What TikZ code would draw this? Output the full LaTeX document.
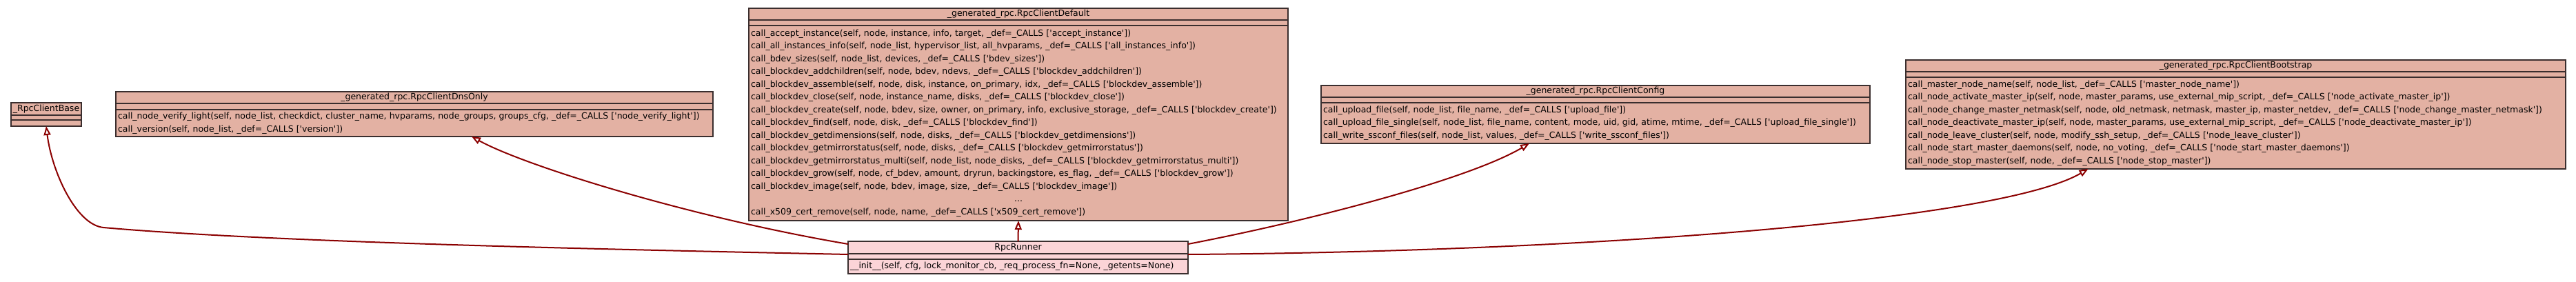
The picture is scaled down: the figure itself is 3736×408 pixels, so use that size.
\documentclass[tikz,border=0pt]{standalone}
\usepackage{fontspec}
\setmainfont{DejaVu Sans}
\usepackage{tikz}
\usetikzlibrary{positioning}
\usetikzlibrary{arrows.meta}
\usepackage{xcolor}
\definecolor{ColGen}{RGB}{227,177,163}
\definecolor{ColRun}{RGB}{251,212,215}
\definecolor{ColLine}{RGB}{58,46,46}
\definecolor{ColArrow}{RGB}{139,0,0}
\newcommand{\Calls}[1]{\_def=\_CALLS [\textquotesingle#1\textquotesingle])}
\tikzstyle{ClassPart}=[draw=ColLine,fill=ColGen,line width=1.2pt,inner sep=1pt,outer sep=0pt,
font=\fontsize{12.5}{18.5}\selectfont]
\tikzstyle{ClassTitle}=[ClassPart,minimum height=17pt]
\tikzstyle{ClassAttr}=[ClassPart,minimum height=8pt]
\tikzstyle{ClassOps}=[ClassPart,align=left,inner xsep=3pt]
\tikzstyle{EdgeInherit}=[ColArrow,line width=2pt,-{Triangle[open,fill=white,length=13pt,width=10pt]}]

\begin{document}
\begin{tikzpicture}[x=1pt,y=-1pt]
        \useasboundingbox(0,0)rectangle(3736,408);
        % _RpcClientBase
        \node[ClassTitle,anchor=north west,minimum width=102pt,minimum height=18pt](BaseTitle)at(16,149){\_RpcClientBase};
        \node[ClassAttr,below=0pt of BaseTitle,minimum width=102pt,minimum height=7pt](BaseAttr){};
        \node[ClassOps,below=0pt of BaseAttr,minimum width=102pt,minimum height=9pt](BaseOps){};
        % RpcClientDnsOnly
        \node[ClassTitle,anchor=north west,minimum width=866pt](DnsTitle)at(168,133){\_generated\_rpc.RpcClientDnsOnly};
        \node[ClassAttr,below=0pt of DnsTitle,minimum width=866pt,minimum height=9pt](DnsAttr){};
        \node[ClassOps,below=0pt of DnsAttr,minimum width=866pt,text width=860pt,minimum height=39pt](DnsOps){%
call\_node\_verify\_light(self, node\_list, checkdict, cluster\_name, hvparams, node\_groups, groups\_cfg, \Calls{node\_verify\_light}\\
call\_version(self, node\_list, \Calls{version}};
        % RpcClientDefault
        \node[ClassTitle,anchor=north west,minimum width=782pt](DefTitle)at(1086,12){\_generated\_rpc.RpcClientDefault};
        \node[ClassAttr,below=0pt of DefTitle,minimum width=782pt](DefAttr){};
        \node[ClassOps,below=0pt of DefAttr,minimum width=782pt,text width=776pt,minimum height=283pt](DefOps){%
call\_accept\_instance(self, node, instance, info, target, \Calls{accept\_instance}\\
call\_all\_instances\_info(self, node\_list, hypervisor\_list, all\_hvparams, \Calls{all\_instances\_info}\\
call\_bdev\_sizes(self, node\_list, devices, \Calls{bdev\_sizes}\\
call\_blockdev\_addchildren(self, node, bdev, ndevs, \Calls{blockdev\_addchildren}\\
call\_blockdev\_assemble(self, node, disk, instance, on\_primary, idx, \Calls{blockdev\_assemble}\\
call\_blockdev\_close(self, node, instance\_name, disks, \Calls{blockdev\_close}\\
call\_blockdev\_create(self, node, bdev, size, owner, on\_primary, info, exclusive\_storage, \Calls{blockdev\_create}\\
call\_blockdev\_find(self, node, disk, \Calls{blockdev\_find}\\
call\_blockdev\_getdimensions(self, node, disks, \Calls{blockdev\_getdimensions}\\
call\_blockdev\_getmirrorstatus(self, node, disks, \Calls{blockdev\_getmirrorstatus}\\
call\_blockdev\_getmirrorstatus\_multi(self, node\_list, node\_disks, \Calls{blockdev\_getmirrorstatus\_multi}\\
call\_blockdev\_grow(self, node, cf\_bdev, amount, dryrun, backingstore, es\_flag, \Calls{blockdev\_grow}\\
call\_blockdev\_image(self, node, bdev, image, size, \Calls{blockdev\_image}\\
\hspace*{\fill}...\hspace*{\fill}\null\\
call\_x509\_cert\_remove(self, node, name, \Calls{x509\_cert\_remove}};
        % RpcClientConfig
        \node[ClassTitle,anchor=north west,minimum width=796pt](ConfTitle)at(1916,124){\_generated\_rpc.RpcClientConfig};
        \node[ClassAttr,below=0pt of ConfTitle,minimum width=796pt](ConfAttr){};
        \node[ClassOps,below=0pt of ConfAttr,minimum width=796pt,text width=790pt,minimum height=59pt](ConfOps){%
call\_upload\_file(self, node\_list, file\_name, \Calls{upload\_file}\\
call\_upload\_file\_single(self, node\_list, file\_name, content, mode, uid, gid, atime, mtime, \Calls{upload\_file\_single}\\
call\_write\_ssconf\_files(self, node\_list, values, \Calls{write\_ssconf\_files}};
        % RpcClientBootstrap
        \node[ClassTitle,anchor=north west,minimum width=957pt](BootTitle)at(2764,87){\_generated\_rpc.RpcClientBootstrap};
        \node[ClassAttr,below=0pt of BootTitle,minimum width=957pt](BootAttr){};
        \node[ClassOps,below=0pt of BootAttr,minimum width=957pt,text width=951pt,minimum height=133pt](BootOps){%
call\_master\_node\_name(self, node\_list, \Calls{master\_node\_name}\\
call\_node\_activate\_master\_ip(self, node, master\_params, use\_external\_mip\_script, \Calls{node\_activate\_master\_ip}\\
call\_node\_change\_master\_netmask(self, node, old\_netmask, netmask, master\_ip, master\_netdev, \Calls{node\_change\_master\_netmask}\\
call\_node\_deactivate\_master\_ip(self, node, master\_params, use\_external\_mip\_script, \Calls{node\_deactivate\_master\_ip}\\
call\_node\_leave\_cluster(self, node, modify\_ssh\_setup, \Calls{node\_leave\_cluster}\\
call\_node\_start\_master\_daemons(self, node, no\_voting, \Calls{node\_start\_master\_daemons}\\
call\_node\_stop\_master(self, node, \Calls{node\_stop\_master}};
        % RpcRunner
        \node[ClassTitle,fill=ColRun,anchor=north west,minimum width=493pt,minimum height=18pt](RunnerTitle)at(1230,350){RpcRunner};
        \node[ClassAttr,fill=ColRun,below=0pt of RunnerTitle,minimum width=493pt](RunnerAttr){};
        \node[ClassOps,fill=ColRun,below=0pt of RunnerAttr,minimum width=493pt,text width=487pt,minimum height=21pt](RunnerOps){%
\_\_init\_\_(self, cfg, lock\_monitor\_cb, \_req\_process\_fn=None, \_getents=None)};
        % inheritance
        \draw[EdgeInherit]([yshift=3pt]RunnerAttr.west)..controls(900,362)and(400,352)..(150,330)
            ..controls(110,326)and(75,248)..(BaseOps.south);
        \draw[EdgeInherit]([yshift=5pt]RunnerTitle.west)..controls(1000,315)and(760,240)..([xshift=83pt]DnsOps.south);
        \draw[EdgeInherit](RunnerTitle.north)--(DefOps.south);
        \draw[EdgeInherit]([yshift=5pt]RunnerTitle.east)..controls(1900,320)and(2130,260)..([xshift=-96pt]ConfOps.south);
        \draw[EdgeInherit]([yshift=3pt]RunnerAttr.east)..controls(2300,365)and(2900,320)..([xshift=-214pt]BootOps.south);
    \end{tikzpicture}
\end{document}
